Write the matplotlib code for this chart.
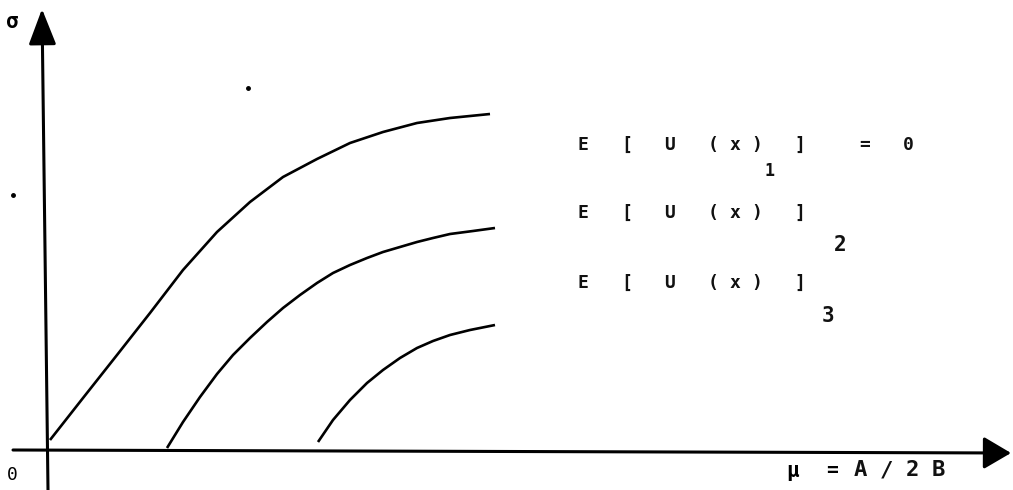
import matplotlib.pyplot as plt

# Indifference curves in the (mu, sigma) plane, units measured from the origin
mu_1 = [2, 35, 69, 102, 135, 169, 202, 235, 269, 302, 335, 369, 402, 422, 442]
sigma_1 = [10, 52, 95, 137, 180, 218, 248, 273, 291, 307, 318, 327, 332, 334, 336]

mu_2 = [119, 135, 152, 169, 185, 202, 219, 235, 252, 269, 285, 302, 319, 335, 352, 369, 385, 402, 425, 447]
sigma_2 = [2, 28, 53, 76, 95, 112, 128, 142, 155, 167, 177, 185, 192, 198, 203, 208, 212, 216, 219, 222]

mu_3 = [270, 285, 302, 319, 335, 352, 369, 385, 402, 422, 447]
sigma_3 = [8, 30, 50, 67, 80, 92, 102, 109, 115, 120, 125]

curve_labels = ['E [ U (x) ]  = 0', 'E [ U (x) ]', 'E [ U (x) ]']
curve_subs = ['1', '2', '3']

mono = 'DejaVu Sans Mono'


def spaced(ax, x0, y, text, pitch, size):
    # typewriter-style text: one glyph per fixed step
    for i, ch in enumerate(text):
        if ch != ' ':
            ax.text(x0 + i * pitch, y, ch, fontsize=size, family=mono,
                    weight='bold', ha='center', va='center', color='#111111')


fig = plt.figure(figsize=(10.13, 4.9), dpi=100)
ax = fig.add_axes([0, 0, 1, 1])
ax.set_xlim(-48, 965)
ax.set_ylim(-40, 450)
ax.axis('off')

# axes with arrow heads
ax.annotate('', xy=(-6, 441), xytext=(0, -40),
            arrowprops=dict(arrowstyle='-|>,head_length=2.2,head_width=0.85',
                            lw=2.2, color='black', shrinkA=0, shrinkB=0))
ax.annotate('', xy=(963, -3), xytext=(-35, 0),
            arrowprops=dict(arrowstyle='-|>,head_length=1.7,head_width=1.0',
                            lw=2.2, color='black', shrinkA=0, shrinkB=0))

for mu, sg in [(mu_1, sigma_1), (mu_2, sigma_2), (mu_3, sigma_3)]:
    ax.plot(mu, sg, color='black', lw=1.9, solid_capstyle='butt',
            solid_joinstyle='round')

# curve captions
label_y = [305, 237, 167]
sub_pos = [(722, 279), (792, 205), (780, 134)]
sub_size = [12, 15, 15]
for lab, sub, y, (sx, sy), fs in zip(curve_labels, curve_subs, label_y, sub_pos, sub_size):
    spaced(ax, 535, y, lab, 21.7, 13)
    ax.text(sx, sy, sub, fontsize=fs, family=mono, weight='bold',
            ha='center', va='center', color='#111111')

ax.text(-36, 428, 'σ', fontsize=15, family=mono, weight='bold', ha='center', va='center')
ax.text(-36, -25, '0', fontsize=13, family=mono, ha='center', va='center')
ax.text(745, -21, 'μ', fontsize=15, family=mono, weight='bold', ha='center', va='center')
ax.text(784, -20, '=', fontsize=14, family=mono, weight='bold', ha='center', va='center')
spaced(ax, 812, -20, 'A/2B', 26, 16)

# specks
ax.plot([200, -35], [362, 255], 'o', color='black', ms=2.5)

fig.savefig('out.png', dpi=100, facecolor='white')
